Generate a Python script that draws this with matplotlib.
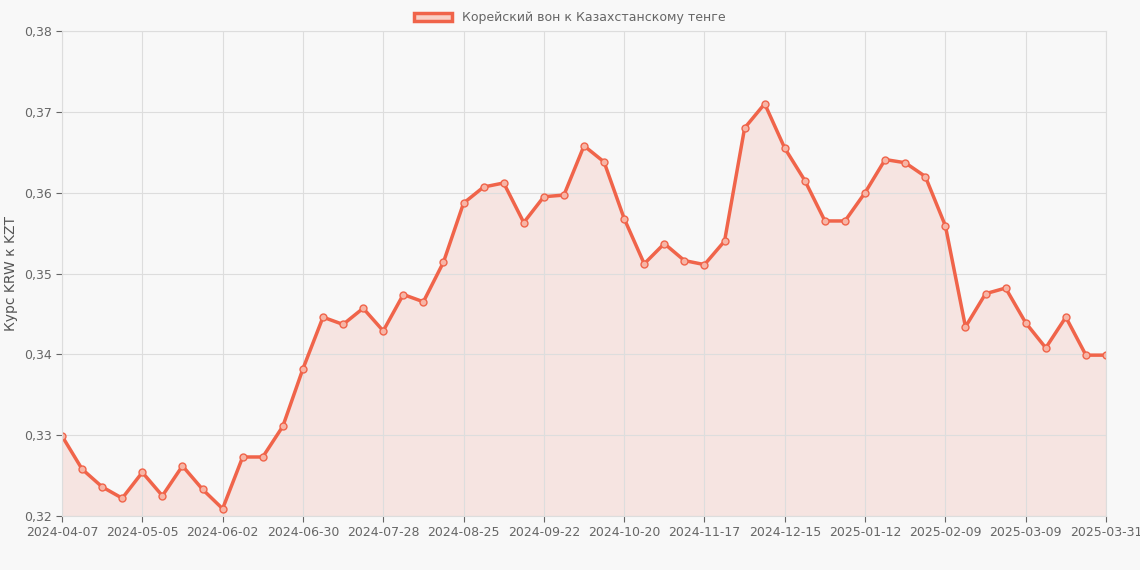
import matplotlib.pyplot as plt
from matplotlib.patches import Patch
from datetime import date, timedelta

# недельные даты + последняя точка 2025-03-31
dates = [(date(2024, 4, 7) + timedelta(weeks=i)).isoformat() for i in range(52)] + ["2025-03-31"]

rates = [0.3299, 0.3258, 0.3236, 0.3222, 0.3254, 0.3225, 0.3262, 0.3233, 0.3209, 0.3273,
         0.3273, 0.3311, 0.3382, 0.3446, 0.3437, 0.3457, 0.3429, 0.3474, 0.3465, 0.3514,
         0.3587, 0.3607, 0.3612, 0.3563, 0.3595, 0.3597, 0.3658, 0.3638, 0.3568, 0.3512,
         0.3537, 0.3516, 0.3511, 0.3540, 0.3680, 0.3710, 0.3655, 0.3615, 0.3565, 0.3565,
         0.3600, 0.3641, 0.3637, 0.3620, 0.3559, 0.3434, 0.3475, 0.3482, 0.3439, 0.3408,
         0.3446, 0.3399, 0.3399]

color = "#f0644a"
bg = "#f8f8f8"

fig = plt.figure(figsize=(11.4, 5.7), dpi=100, facecolor=bg)
ax = fig.add_axes([62 / 1140, 1 - 516 / 570, (1106 - 62) / 1140, (516 - 31) / 570], facecolor=bg)

x = list(range(len(dates)))
ax.fill_between(x, rates, 0.32, color=color, alpha=0.13, linewidth=0)
ax.plot(x, rates, color=color, linewidth=2.5, marker="o", markersize=5,
        markerfacecolor="#f7b5a6", markeredgecolor=color, markeredgewidth=1)

ax.set_xlim(0, len(dates) - 1)
ax.set_ylim(0.32, 0.38)
ticks = list(range(0, len(dates) - 1, 4)) + [len(dates) - 1]
ax.set_xticks(ticks)
ax.set_xticklabels([dates[i] for i in ticks])
yt = [0.32, 0.33, 0.34, 0.35, 0.36, 0.37, 0.38]
ax.set_yticks(yt)
ax.set_yticklabels([f"{v:.2f}".replace(".", ",") for v in yt])
ax.tick_params(colors="#666666", labelsize=9, length=4)
ax.grid(True, color="#dddddd", linewidth=0.8)
for s in ax.spines.values():
    s.set_color("#dddddd")
ax.set_ylabel("Курс KRW к KZT", color="#555555", fontsize=10)

fig.legend(handles=[Patch(facecolor="#f9d0c6", edgecolor=color, linewidth=2.5,
                          label="Корейский вон к Казахстанскому тенге")],
           loc="upper center", bbox_to_anchor=(0.5, 1.0), frameon=False,
           fontsize=9, labelcolor="#666666", handlelength=3)

fig.savefig("out.png", dpi=100, facecolor=bg)
